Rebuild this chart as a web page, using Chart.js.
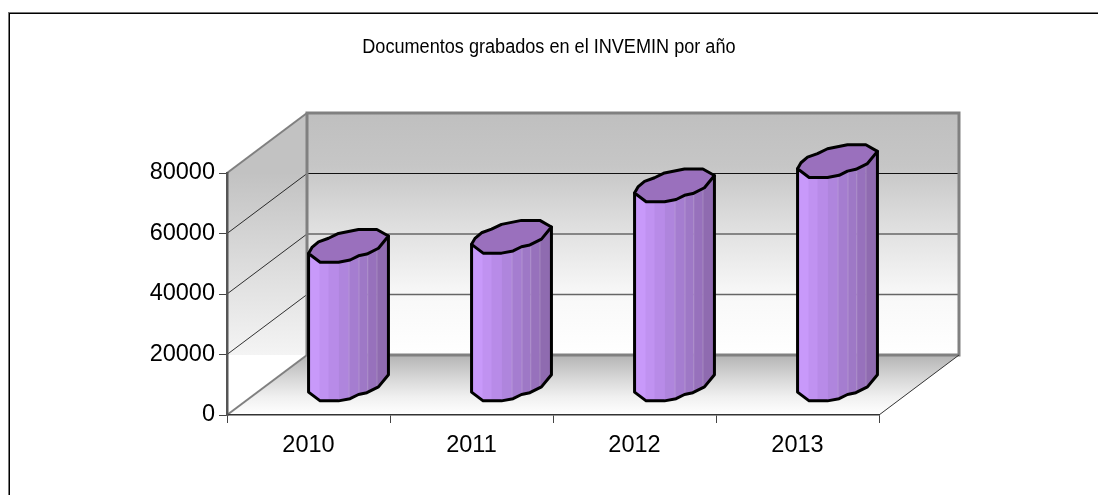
<!DOCTYPE html>
<html>
<head>
<meta charset="utf-8">
<style>html,body{margin:0;padding:0;background:#fff}canvas{display:block}</style>
<script src="https://cdn.jsdelivr.net/npm/chart.js@4"></script>
</head>
<body>
<canvas id="c" width="1098" height="495"></canvas>
<script>
const categories = ['2010', '2011', '2012', '2013'];
const documentos = [46000, 49000, 66000, 74000];
const titleText = 'Documentos grabados en el INVEMIN por año';
const yMin = 0, yMax = 80000, yStep = 20000;

// 3D look
const DX = 80, DY = 60;
const capOutline = [[-1,.19],[-.71,.41],[-.25,.41],[.04,.355],[.25,.25],[.46,.205],[.75,.06],[1,-.245],
                    [.71,-.41],[.25,-.41],[-.25,-.31],[-.5,-.19],[-.75,-.1],[-.915,.04]];
const stripEdges = [-1,-.725,-.5,-.24,0,.25,.47,.7,1];
const stripColors = ['#c899fa','#c092f1','#b88be8','#af85dd','#a57dd0','#9e78c6','#9771bc','#8f6bb0'];
const capColor = '#9a70bd';
const TITLE_SQUEEZE = 0.905;

function hGrad(ctx, y0, y1, stops){
  const g = ctx.createLinearGradient(0, y0, 0, y1);
  stops.forEach(s => g.addColorStop(s[0], s[1]));
  return g;
}
function poly(ctx, pts){
  ctx.beginPath();
  pts.forEach((p,i)=> i ? ctx.lineTo(p[0],p[1]) : ctx.moveTo(p[0],p[1]));
  ctx.closePath();
}

// the reference title is a condensed face: narrow the real title text horizontally
const narrowTitle = {
  id:'narrowTitle',
  afterLayout(chart){
    const tb = chart.titleBlock;
    if(!tb || tb._narrowed) return;
    const orig = tb.draw;
    tb.draw = function(...args){
      const c = chart.ctx, cx = chart.width/2 - 1;
      c.save();
      c.translate(cx,0);c.scale(TITLE_SQUEEZE,1);c.translate(-cx,0);
      orig.apply(this,args);
      c.restore();
    };
    tb._narrowed = true;
  }
};

const frame3d = {
  id:'frame3d',
  beforeDraw(chart){
    const {ctx, chartArea:a, scales:{y}} = chart;
    const L=a.left,R=a.right,T=a.top,B=a.bottom;
    ctx.save();
    ctx.fillStyle='#fff';ctx.fillRect(0,0,chart.width,chart.height);
    // outer frame
    ctx.fillStyle='#777';ctx.fillRect(8,12,chart.width-8,1);ctx.fillRect(8,12,1,chart.height-12);
    ctx.fillStyle='#000';ctx.fillRect(9,13,chart.width-9,1);ctx.fillRect(9,13,1,chart.height-13);
    // back wall
    ctx.fillStyle=hGrad(ctx,T-DY,B-DY,[[0,'#bfbfbf'],[.22,'#c6c6c6'],[.5,'#e2e2e2'],[.75,'#f8f8f8'],[1,'#ffffff']]);
    ctx.fillRect(L+DX,T-DY,R-L,B-T);
    // floor
    ctx.fillStyle=hGrad(ctx,B-DY,B,[[0,'#b4b4b4'],[.35,'#d4d4d4'],[.7,'#f0f0f0'],[1,'#ffffff']]);
    poly(ctx,[[L,B],[R,B],[R+DX,B-DY],[L+DX,B-DY]]);ctx.fill();
    // side wall, fading out at the floor line of the back wall
    ctx.save();
    ctx.beginPath();ctx.rect(L,T-DY,DX,B-T);ctx.clip();
    ctx.fillStyle=hGrad(ctx,T,B-DY,[[0,'#c2c2c2'],[.5,'#dcdcdc'],[1,'#f4f4f4']]);
    poly(ctx,[[L,T],[L+DX,T-DY],[L+DX,B-DY],[L,B]]);ctx.fill();
    ctx.restore();
    // gridlines from the value scale
    y.ticks.forEach(t=>{
      const py=y.getPixelForValue(t.value);
      if(t.value>yMin && t.value<yMax){
        ctx.strokeStyle='#000';ctx.lineWidth=.8;
        ctx.beginPath();ctx.moveTo(L,py);ctx.lineTo(L+DX,py-DY);ctx.stroke();
        const top = t.value===yMax-yStep;
        ctx.strokeStyle= top?'#111':'#666';ctx.lineWidth= top?1:1.5;
        ctx.beginPath();ctx.moveTo(L+DX,py-DY);ctx.lineTo(R+DX,py-DY);ctx.stroke();
      }
    });
    // wall borders
    ctx.strokeStyle='#808080';ctx.lineWidth=3;
    ctx.beginPath();ctx.moveTo(L+DX,B-DY);ctx.lineTo(L+DX,T-DY);ctx.lineTo(R+DX,T-DY);ctx.lineTo(R+DX,B-DY);ctx.lineTo(L+DX,B-DY);ctx.stroke();
    ctx.lineWidth=2;
    ctx.beginPath();ctx.moveTo(L,T);ctx.lineTo(L+DX,T-DY);ctx.stroke();
    ctx.beginPath();ctx.moveTo(L,B);ctx.lineTo(L+DX,B-DY);ctx.stroke();
    ctx.strokeStyle='#333';ctx.lineWidth=1;
    ctx.beginPath();ctx.moveTo(R,B);ctx.lineTo(R+DX,B-DY);ctx.stroke();
    ctx.restore();
  }
};

const cylinders = {
  id:'cylinders',
  beforeDatasetDraw(chart,args){
    const {ctx}=chart;
    args.meta.data.forEach(el=>{
      const p=el.getProps(['x','y','base','width'],true);
      const hw=p.width/2, cx=p.x+DX/2, topY=p.y-DY/2, botY=p.base-DY/2;
      const pt=(o,cy)=>[cx+o[0]*hw, cy+o[1]*hw];
      // outline runs left, front arc, right, rear arc
      const front=capOutline.slice(0,8);
      const body=[pt(front[0],topY)].concat(front.map(o=>pt(o,botY)),[pt(front[7],topY)]);
      const cap=capOutline.map(o=>pt(o,topY));
      ctx.save();
      ctx.lineJoin='round';
      ctx.save();
      poly(ctx,body);ctx.clip();
      stripColors.forEach((col,i)=>{
        const x0=cx+stripEdges[i]*hw, x1=cx+stripEdges[i+1]*hw;
        ctx.fillStyle=col;ctx.fillRect(x0,topY-hw,x1-x0+.5,botY-topY+2*hw);
        if(i>=4){ctx.fillStyle='rgba(255,255,255,.2)';ctx.fillRect(x0,topY-hw,1,botY-topY+2*hw);}
      });
      ctx.restore();
      ctx.strokeStyle='#000';ctx.lineWidth=3;
      poly(ctx,body);ctx.stroke();
      ctx.fillStyle=capColor;
      poly(ctx,cap);ctx.fill();ctx.stroke();
      ctx.restore();
    });
    return false;
  }
};

new Chart(document.getElementById('c'),{
  type:'bar',
  data:{labels:categories,datasets:[{label:'Documentos',data:documentos,backgroundColor:'#a57dd0',barPercentage:.49,categoryPercentage:1}]},
  plugins:[narrowTitle,frame3d,cylinders],
  options:{
    responsive:false,animation:false,
    layout:{padding:0},
    plugins:{
      legend:{display:false},tooltip:{enabled:false},
      title:{display:true,text:titleText,color:'#000',
        font:{family:'"Liberation Sans",sans-serif',size:20,weight:'normal',lineHeight:1.2},
        padding:{top:35,bottom:114}}
    },
    scales:{
      x:{
        offset:true,
        grid:{drawOnChartArea:false,offset:true,tickLength:8,tickColor:'#444',tickWidth:1},
        border:{color:'#333',width:1.5},
        ticks:{color:'#000',font:{family:'"Liberation Sans",sans-serif',size:23.5},padding:8,maxRotation:0},
        afterFit(s){s.height=80;}
      },
      y:{
        min:yMin,max:yMax,
        grid:{drawOnChartArea:false,tickLength:8,tickColor:'#444',tickWidth:1},
        border:{color:'#555',width:2.5},
        ticks:{stepSize:yStep,color:'#000',font:{family:'"Liberation Sans",sans-serif',size:23.5},padding:4,
          callback:v=>String(v)},
        afterFit(s){s.width=227;}
      },
      // empty right-hand gutter that keeps the title centred on the whole page
      gutter:{
        type:'linear',position:'right',
        grid:{display:false},border:{display:false},ticks:{display:false},
        afterFit(s){s.width=219;}
      }
    }
  }
});
</script>
</body>
</html>
